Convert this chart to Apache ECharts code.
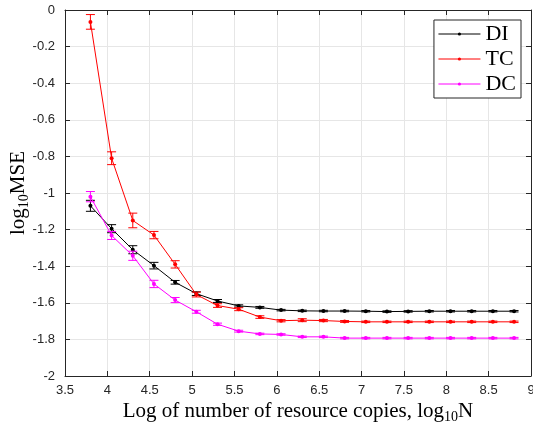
<!DOCTYPE html>
<html>
<head>
<meta charset="utf-8">
<script src="https://cdn.jsdelivr.net/npm/echarts@6/dist/echarts.min.js"></script>
<style>
  html, body { margin: 0; padding: 0; background: #fff; }
  #chart { width: 533px; height: 433px; }
</style>
</head>
<body>
<div id="chart"></div>
<script>
// log10 N
var xVals = [3.8, 4.05, 4.3, 4.55, 4.8, 5.05, 5.3, 5.55, 5.8, 6.05, 6.3, 6.55, 6.8, 7.05, 7.3, 7.55, 7.8, 8.05, 8.3, 8.55, 8.8];

var diMean = [-1.07, -1.195, -1.31, -1.397, -1.488, -1.55, -1.59, -1.617, -1.625, -1.64, -1.644, -1.645, -1.645, -1.646, -1.648, -1.647, -1.646, -1.646, -1.646, -1.646, -1.646];
var diErr  = [0.03, 0.022, 0.022, 0.018, 0.01, 0.01, 0.008, 0.006, 0.005, 0.004, 0.004, 0.004, 0.004, 0.004, 0.004, 0.004, 0.004, 0.004, 0.004, 0.004, 0.004];

var tcMean = [-0.065, -0.81, -1.15, -1.23, -1.39, -1.555, -1.615, -1.635, -1.678, -1.698, -1.695, -1.697, -1.702, -1.704, -1.704, -1.704, -1.704, -1.704, -1.704, -1.704, -1.704];
var tcErr  = [0.04, 0.035, 0.04, 0.02, 0.02, 0.013, 0.01, 0.008, 0.007, 0.006, 0.008, 0.006, 0.005, 0.004, 0.004, 0.004, 0.004, 0.004, 0.004, 0.004, 0.004];

var dcMean = [-1.02, -1.232, -1.343, -1.497, -1.585, -1.649, -1.717, -1.755, -1.77, -1.773, -1.786, -1.786, -1.793, -1.793, -1.793, -1.793, -1.793, -1.793, -1.793, -1.793, -1.793];
var dcErr  = [0.028, 0.022, 0.025, 0.02, 0.014, 0.008, 0.006, 0.005, 0.004, 0.004, 0.004, 0.004, 0.004, 0.004, 0.004, 0.004, 0.004, 0.004, 0.004, 0.004, 0.004];

var names = ['DI', 'TC', 'DC'];
var colors = ['#000000', '#ff0000', '#ff00ff'];

var axisColor = '#262626';
var gridColor = '#e6e6e6';
var tickFont = '"Liberation Sans", Arial, sans-serif';
var texFont = '"Liberation Serif", "DejaVu Serif", serif';

function pairs(xs, ys) {
    var out = [];
    xs.forEach(function (x, i) { out.push([x, ys[i]]); });
    return out;
}

function errData(xs, ys, es) {
    var out = [];
    xs.forEach(function (x, i) { out.push([x, ys[i] - es[i], ys[i] + es[i]]); });
    return out;
}

function errRender(color) {
    return function (params, api) {
        var x = api.value(0);
        var lo = api.coord([x, api.value(1)]);
        var hi = api.coord([x, api.value(2)]);
        var w = 4.5;
        var st = { stroke: color, lineWidth: 1 };
        return {
            type: 'group',
            children: [
                { type: 'line', shape: { x1: lo[0], y1: lo[1], x2: hi[0], y2: hi[1] }, style: st },
                { type: 'line', shape: { x1: lo[0] - w, y1: lo[1], x2: lo[0] + w, y2: lo[1] }, style: st },
                { type: 'line', shape: { x1: hi[0] - w, y1: hi[1], x2: hi[0] + w, y2: hi[1] }, style: st }
            ]
        };
    };
}

var means = [diMean, tcMean, dcMean];
var errs = [diErr, tcErr, dcErr];

var series = [];
names.forEach(function (nm, i) {
    series.push({
        name: nm,
        type: 'line',
        data: pairs(xVals, means[i]),
        symbol: 'circle',
        symbolSize: 4,
        showSymbol: true,
        lineStyle: { color: colors[i], width: 1 },
        itemStyle: { color: colors[i] },
        z: 3 + i,
        animation: false
    });
    series.push({
        name: nm + ' err',
        type: 'custom',
        data: errData(xVals, means[i], errs[i]),
        renderItem: errRender(colors[i]),
        encode: { x: 0, y: [1, 2] },
        z: 3 + i,
        animation: false
    });
});

var xBase = {
    type: 'value', min: 3.5, max: 9, interval: 0.5,
    axisLine: { show: true, onZero: false, lineStyle: { color: axisColor, width: 1 } },
    axisTick: { show: true, inside: true, length: 5, lineStyle: { color: axisColor } }
};
var yBase = {
    type: 'value', min: -2, max: 0, interval: 0.2,
    axisLine: { show: true, onZero: false, lineStyle: { color: axisColor, width: 1 } },
    axisTick: { show: true, inside: true, length: 5, lineStyle: { color: axisColor } }
};

var titleRich = {
    a: { fontFamily: texFont, fontSize: 21, lineHeight: 26, color: '#000' },
    s: { fontFamily: texFont, fontSize: 14, lineHeight: 14, verticalAlign: 'bottom', color: '#000' }
};

var option = {
    backgroundColor: '#fff',
    animation: false,
    grid: { left: 65, right: 2, top: 10, bottom: 57, containLabel: false, outerBoundsMode: 'none' },
    legend: {
        data: names,
        orient: 'vertical',
        right: 12,
        top: 20,
        itemWidth: 42,
        itemHeight: 4,
        itemGap: 3,
        padding: [3, 5, 3, 4],
        backgroundColor: '#fff',
        borderColor: axisColor,
        borderWidth: 1,
        borderRadius: 0,
        lineStyle: { width: 1 },
        textStyle: { fontFamily: texFont, fontSize: 22, lineHeight: 22, color: '#000' }
    },
    xAxis: [
        Object.assign({}, xBase, {
            position: 'bottom',
            axisLabel: { color: axisColor, fontFamily: tickFont, fontSize: 13, margin: 8 },
            splitLine: { show: true, lineStyle: { color: gridColor, width: 1 } },
            name: '{a|Log of number of resource copies, log}{s|10}{a|N}',
            nameLocation: 'middle',
            nameGap: 22,
            nameMoveOverlap: false,
            nameTextStyle: { rich: titleRich }
        }),
        Object.assign({}, xBase, {
            position: 'top',
            axisLabel: { show: false },
            splitLine: { show: false }
        })
    ],
    yAxis: [
        Object.assign({}, yBase, {
            position: 'left',
            axisLabel: { color: axisColor, fontFamily: tickFont, fontSize: 13, margin: 10 },
            splitLine: { show: true, lineStyle: { color: gridColor, width: 1 } },
            name: '{a|log}{s|10}{a|MSE}',
            nameLocation: 'middle',
            nameGap: 34,
            nameMoveOverlap: false,
            nameTextStyle: { rich: titleRich }
        }),
        Object.assign({}, yBase, {
            position: 'right',
            axisLabel: { show: false },
            splitLine: { show: false }
        })
    ],
    series: series
};

var chart = echarts.init(document.getElementById('chart'), null, { renderer: 'canvas' });
chart.setOption(option);
</script>
</body>
</html>
